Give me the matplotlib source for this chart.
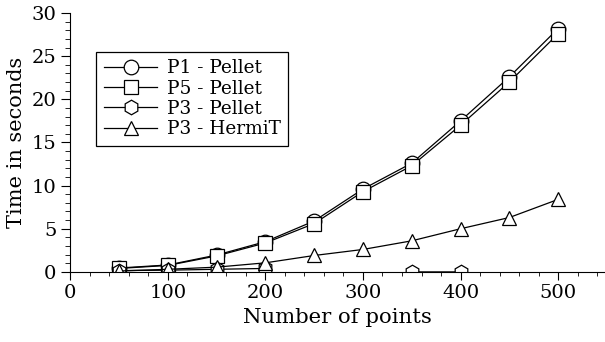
import numpy as np
import matplotlib
matplotlib.use('Agg')
import matplotlib.pyplot as plt
from matplotlib.ticker import MultipleLocator

plt.rcParams['font.family'] = 'DejaVu Serif'

x = [50, 100, 150, 200, 250, 300, 350, 400, 450, 500]
p1_pellet = [0.45, 0.8, 1.95, 3.5, 5.9, 9.6, 12.6, 17.5, 22.6, 28.2]
p5_pellet = [0.4, 0.75, 1.85, 3.35, 5.6, 9.3, 12.3, 17.0, 22.0, 27.6]
x_p3 = [50, 100, 150, 200, 250, 300, 350, 400]
p3_pellet = [0.15, 0.2, 0.3, 0.4, np.nan, np.nan, 0.0, 0.0]
p3_hermit = [0.1, 0.3, 0.55, 1.05, 1.9, 2.6, 3.6, 5.0, 6.3, 8.4]

fig = plt.figure(figsize=(6.05, 3.42), dpi=100)
ax = fig.add_axes([0.116, 0.205, 0.884, 0.757])

style = dict(color='black', lw=0.9, mfc='white', mec='black', mew=0.9, ms=10.5)
ax.plot(x, p1_pellet, marker='o', label='P1 - Pellet', **style)
ax.plot(x, p5_pellet, marker='s', label='P5 - Pellet', **style)
ax.plot(x_p3, p3_pellet, marker='h', label='P3 - Pellet', **style)
ax.plot(x, p3_hermit, marker='^', label='P3 - HermiT', **style)

ax.set_xlim(0, 548)
ax.set_ylim(0, 30)
ax.xaxis.set_major_locator(MultipleLocator(100))
ax.xaxis.set_minor_locator(MultipleLocator(20))
ax.yaxis.set_major_locator(MultipleLocator(5))
ax.yaxis.set_minor_locator(MultipleLocator(1))
ax.spines['top'].set_visible(False)
ax.spines['right'].set_visible(False)
ax.tick_params(which='major', labelsize=14, direction='out')
ax.tick_params(axis='x', which='major', length=5.5)
ax.tick_params(axis='x', which='minor', length=3)
ax.tick_params(axis='y', which='major', length=6.5)
ax.tick_params(axis='y', which='minor', length=3.5)
ax.set_xlabel('Number of points', fontsize=15.3)
ax.set_ylabel('Time in seconds', fontsize=15)

leg = ax.legend(loc='upper left', bbox_to_anchor=(0.049, 0.849), fontsize=13.3,
                fancybox=False, edgecolor='black', framealpha=1,
                handlelength=2.9, labelspacing=0.12, borderpad=0.4,
                borderaxespad=0, handletextpad=0.5)
leg.get_frame().set_linewidth(0.9)

fig.savefig('out.png', dpi=100)
